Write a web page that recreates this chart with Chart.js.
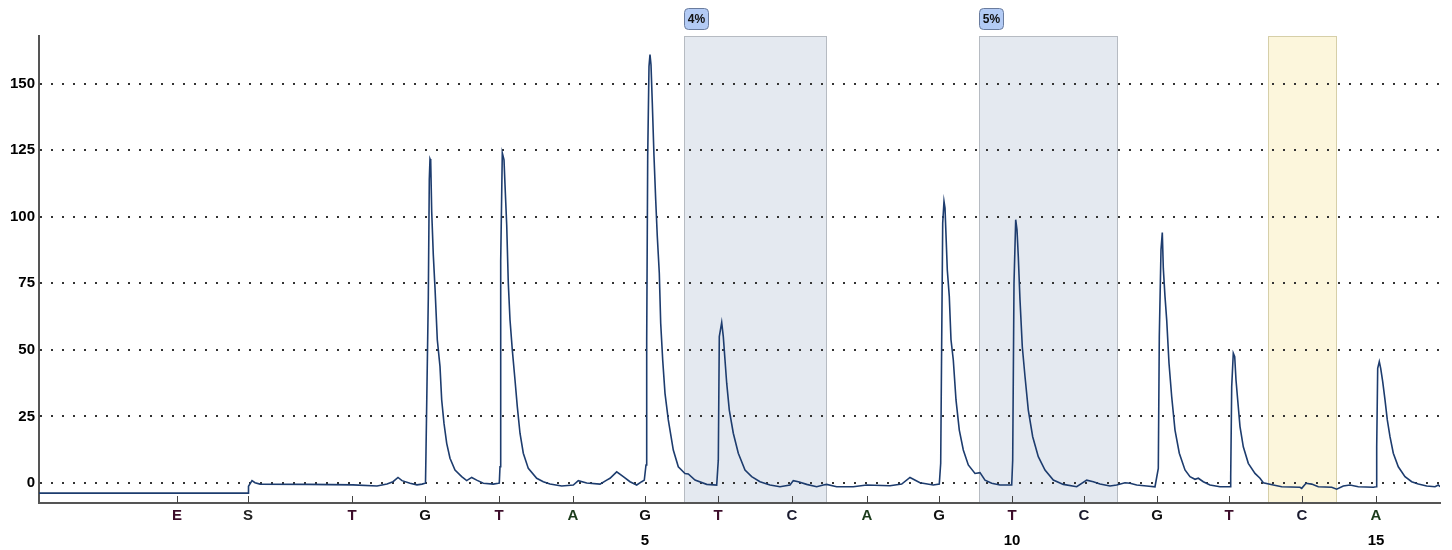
<!DOCTYPE html>
<html>
<head>
<meta charset="utf-8">
<script src="https://cdn.jsdelivr.net/npm/chart.js@4/dist/chart.umd.min.js"></script>
<style>
  html, body { margin: 0; background: #fff; }
  canvas { display: block; }
</style>
</head>
<body>
<canvas id="pyrogram" width="1452" height="550"></canvas>
<script>
// dispensation order and run time of each dispensation
const dispLetters = ["E", "S", "T", "G", "T", "A", "G", "T", "C", "A", "G", "T", "C", "G", "T", "C", "A"];
const dispTimes = [13.8, 20.9, 31.3, 38.6, 46.0, 53.4, 60.6, 67.9, 75.3, 82.8, 90.0, 97.3, 104.5, 111.8, 119.0, 126.3, 133.7];
const numberedDisp = [5, 10, 15];
const yTicks = [0, 25, 50, 75, 100, 125, 150];

// analysed CpG positions
const regionStarts = [64.5, 94.0, 122.9];
const regionEnds = [78.7, 107.8, 129.7];
const regionLabels = ["4%", "5%", ""];

// trace, [time, signal]
const flatStart = [[0, -3.8], [20.9, -3.8]];
const baseS = [[20.95, -1.2], [21.3, 0.9], [21.6, 0.1], [22.1, -0.4], [27.0, -0.5], [31.4, -0.7], [33.8, -1.1], [34.8, -0.4], [35.4, 0.5], [35.9, 2.1], [36.3, 0.9], [37.1, -0.1], [37.8, -0.7], [38.3, -0.4], [38.6, -0.1]];
const peakG1 = [[38.65, 0], [38.7, 11.8], [38.93, 69.5], [39.03, 114], [39.1, 121.7], [39.17, 121], [39.27, 102], [39.43, 85.7], [39.6, 73.3], [39.83, 53.8], [40.1, 43.7], [40.27, 31.2], [40.5, 22.4], [40.77, 14.9], [41.1, 9.3], [41.6, 4.9], [42.27, 2.4], [42.77, 0.9], [43.27, 2.1], [43.77, 1.1], [44.43, -0.1], [45.43, -0.4], [45.93, -0.1]];
const peakT1 = [[46.03, 0], [46.1, 6.1], [46.17, 83.2], [46.33, 124], [46.5, 121.4], [46.6, 112], [46.77, 97], [46.93, 75], [47.1, 61.3], [47.33, 50], [47.6, 38.7], [47.83, 28.7], [48.1, 18.7], [48.43, 11.2], [48.93, 5.5], [49.77, 1.8], [50.43, 0.5], [51.1, -0.4], [52.27, -1.1], [53.43, -0.75], [53.93, 0.9], [54.77, 0.0], [56.1, -0.4], [56.77, 1.1], [57.1, 1.8], [57.77, 4.2], [58.43, 2.4], [59.1, 0.5], [59.77, -0.75], [60.27, 0.5], [60.53, 1.1]];
const peakG2 = [[60.7, 6.8], [60.77, 53.8], [60.87, 122.7], [61.0, 156.5], [61.1, 160.9], [61.2, 157.1], [61.33, 142.7], [61.5, 122.7], [61.67, 106.4], [61.83, 92.6], [62.03, 78.8], [62.17, 60], [62.37, 46.2], [62.6, 33.7], [62.93, 23.7], [63.43, 12.4], [63.93, 6.1], [64.6, 3.6], [64.93, 3.4], [65.6, 1.1], [66.77, -0.5], [67.77, -0.75]];
const peakT2 = [[67.93, 8.6], [68.03, 55], [68.27, 60.3], [68.43, 55], [68.6, 46.2], [68.77, 37.5], [69.03, 27.4], [69.43, 18.7], [69.93, 11.2], [70.6, 4.9], [71.27, 2.4], [72.1, 0.5], [73.1, -0.75], [74.1, -1.4], [75.1, -0.75], [75.43, 0.9], [75.93, 0.5], [76.77, -0.5], [77.77, -1.4], [78.43, -0.75], [78.77, -0.5], [79.77, -1.4], [81.43, -1.4], [82.77, -0.75], [85.1, -1.0], [86.27, -0.4], [87.1, 2.1], [88.1, 0.1], [89.43, -0.75], [90.03, -0.4]];
const peakG3 = [[90.17, 7.4], [90.27, 53.8], [90.37, 97.6], [90.5, 105.8], [90.6, 103.3], [90.7, 93.2], [90.83, 80], [91.03, 70], [91.2, 53.8], [91.43, 46.2], [91.7, 31.2], [92.03, 19.9], [92.43, 12.4], [92.93, 6.8], [93.6, 3.6], [94.1, 3.9], [94.6, 1.1], [95.27, -0.1], [96.1, -0.75], [97.27, -0.75]];
const peakT3 = [[97.37, 8.6], [97.5, 75], [97.67, 98.9], [97.8, 95.1], [97.93, 85], [98.1, 68.8], [98.33, 51.2], [98.6, 40], [98.93, 27.4], [99.37, 17.4], [99.93, 9.9], [100.6, 4.9], [101.43, 1.1], [102.43, -0.5], [103.77, -1.4], [104.77, 1.1], [105.43, 0.5], [106.1, -0.4], [107.1, -1.1], [107.77, -0.75], [108.6, 0.1], [109.1, -0.1], [109.77, -0.75], [110.77, -1.1], [111.6, -1.4]];
const peakG4 = [[111.93, 5.5], [112.03, 55], [112.2, 87.6], [112.33, 94.1], [112.43, 80.7], [112.6, 70], [112.77, 61.3], [113.0, 45], [113.27, 32.4], [113.6, 19.9], [114.03, 11.2], [114.6, 4.9], [115.1, 2.4], [115.6, 1.4], [115.93, 1.8], [116.43, 0.5], [117.1, -0.75], [118.1, -1.4], [119.1, -1.4]];
const peakT4 = [[119.17, 2.4], [119.27, 36.2], [119.43, 48.8], [119.57, 47.5], [119.7, 38.7], [119.87, 31.2], [120.1, 21.2], [120.43, 13.6], [120.93, 7.4], [121.6, 3.6], [122.1, 1.8], [122.43, 0.1], [123.43, -0.75], [124.27, -1.4], [126.1, -1.6], [126.27, -2.0], [126.7, -0.1], [127.27, -0.4], [127.93, -1.4], [129.27, -1.6], [129.77, -2.3], [130.43, -1.1], [131.1, -0.75], [131.93, -1.4], [133.43, -1.6], [133.7, -1.4]];
const peakA = [[133.77, 13.6], [133.87, 43.1], [134.03, 45.6], [134.17, 43.1], [134.37, 38.1], [134.6, 31.2], [134.83, 23.7], [135.1, 17.4], [135.43, 11.2], [135.93, 6.1], [136.6, 2.4], [137.27, 0.5], [137.93, -0.4], [138.77, -1.1], [139.6, -1.4], [139.93, -0.75], [140.1, -1.4]];

const trace = [flatStart, baseS, peakG1, peakT1, peakG2, peakT2, peakG3, peakT3, peakG4, peakT4, peakA]
  .flat()
  .map(p => ({ x: p[0], y: p[1] }));

const letterColors = { E: "#3d0d2a", S: "#222", T: "#3d0d2a", G: "#111", A: "#1b3b1b", C: "#1a1a2e" };
const FONT = "'Liberation Sans', Arial, sans-serif";

const overlay = {
  id: "overlay",
  beforeDraw(chart) {
    const { ctx, chartArea, scales } = chart;
    const x = scales.x;
    ctx.save();
    regionStarts.forEach((start, i) => {
      const left = Math.round(x.getPixelForValue(start)) + 0.5;
      const right = Math.round(x.getPixelForValue(regionEnds[i])) + 0.5;
      const top = chartArea.top + 0.5;
      const yellow = regionLabels[i] === "";
      ctx.fillStyle = yellow ? "#fcf6dc" : "#e4e9f0";
      ctx.fillRect(left, top, right - left, chartArea.bottom - top);
      ctx.strokeStyle = yellow ? "#d6cfa8" : "#b6bbc2";
      ctx.lineWidth = 1;
      ctx.strokeRect(left, top, right - left, chartArea.bottom - top);

      if (regionLabels[i]) {
        ctx.beginPath();
        ctx.roundRect(left, 8.5, 24, 21, 4);
        ctx.fillStyle = "#b3cbf5";
        ctx.fill();
        ctx.strokeStyle = "#6a7c9e";
        ctx.stroke();
        ctx.fillStyle = "#111";
        ctx.font = "bold 12px " + FONT;
        ctx.textAlign = "center";
        ctx.textBaseline = "middle";
        ctx.fillText(regionLabels[i], left + 12, 19.5);
      }
    });
    ctx.restore();
  },
  afterDraw(chart) {
    // short tick marks pointing up into the plot
    const { ctx, chartArea, scales } = chart;
    ctx.save();
    ctx.strokeStyle = "#444";
    ctx.lineWidth = 1;
    dispTimes.forEach(t => {
      const px = Math.round(scales.x.getPixelForValue(t)) + 0.5;
      ctx.beginPath();
      ctx.moveTo(px, chartArea.bottom - 7);
      ctx.lineTo(px, chartArea.bottom);
      ctx.stroke();
    });
    ctx.restore();
  }
};

new Chart(document.getElementById("pyrogram"), {
  type: "line",
  data: {
    datasets: [{
      data: trace,
      borderColor: "#1d3c6e",
      borderWidth: 1.6,
      pointRadius: 0,
      tension: 0,
      fill: false
    }]
  },
  options: {
    responsive: false,
    animation: false,
    devicePixelRatio: 1,
    layout: { padding: { top: 36, right: 12, bottom: 0, left: 0 } },
    plugins: { legend: { display: false }, tooltip: { enabled: false } },
    scales: {
      x: {
        type: "linear",
        position: "bottom",
        weight: 0,
        min: 0,
        max: 140.1,
        afterBuildTicks: s => { s.ticks = dispTimes.map(v => ({ value: v })); },
        afterFit: s => { s.height = 24; },
        grid: { display: false, drawTicks: false },
        border: { display: true, color: "#555", width: 2 },
        ticks: {
          autoSkip: false,
          maxRotation: 0,
          padding: 4,
          font: { family: FONT, size: 15, weight: "bold" },
          color: c => letterColors[dispLetters[c.index]] || "#111",
          callback: (v, i) => dispLetters[i]
        }
      },
      x2: {
        type: "linear",
        position: "bottom",
        weight: 1,
        min: 0,
        max: 140.1,
        afterBuildTicks: s => { s.ticks = numberedDisp.map(n => ({ value: dispTimes[n + 1] })); },
        afterFit: s => { s.height = 23; },
        grid: { display: false, drawTicks: false },
        border: { display: false },
        ticks: {
          autoSkip: false,
          maxRotation: 0,
          padding: 5,
          font: { family: FONT, size: 15, weight: "bold" },
          color: "#000",
          callback: (v, i) => String(numberedDisp[i])
        }
      },
      y: {
        min: -7.5,
        max: 167.9,
        afterBuildTicks: s => { s.ticks = yTicks.map(v => ({ value: v })); },
        afterFit: s => { s.width = 39; },
        grid: { color: "#333", lineWidth: 2, drawTicks: false },
        border: { display: true, color: "#555", width: 2, dash: [2, 9] },
        ticks: {
          padding: 4,
          font: { family: FONT, size: 15, weight: "bold" },
          color: "#000"
        }
      }
    }
  },
  plugins: [overlay]
});
</script>
</body>
</html>
